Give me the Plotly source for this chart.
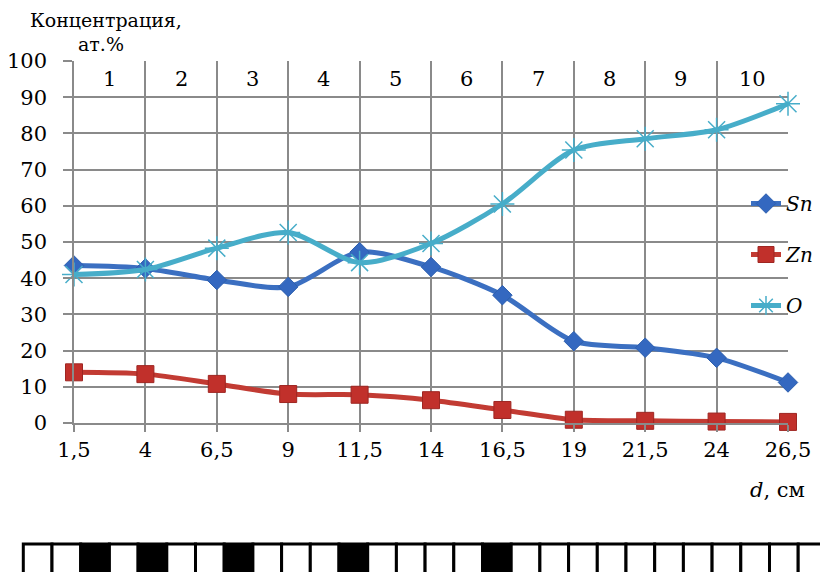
import plotly.graph_objects as go

# Distance along the sample, cm
d = [1.5, 4, 6.5, 9, 11.5, 14, 16.5, 19, 21.5, 24, 26.5]
d_labels = ["1,5", "4", "6,5", "9", "11,5", "14", "16,5", "19", "21,5", "24", "26,5"]

# Concentration, at.%
sn = [43.5, 42.7, 39.5, 37.6, 47.2, 43.1, 35.3, 22.6, 20.8, 18.0, 11.2]
zn = [14.0, 13.5, 10.8, 8.0, 7.8, 6.3, 3.6, 0.9, 0.6, 0.4, 0.3]
o = [41.0, 42.4, 48.3, 52.6, 44.3, 49.6, 60.5, 75.4, 78.5, 81.0, 88.2]

# Zone numbers shown in the top band, between neighbouring points
zones = ["1", "2", "3", "4", "5", "6", "7", "8", "9", "10"]

# Sample strip under the chart: 1 = dark cell, 0 = light cell
strip = [0, 0, 1, 0, 1, 0, 0, 1, 0, 0, 0, 1, 0, 0, 0, 0, 1,
         0, 0, 0, 0, 0, 0, 0, 0, 0, 0, 0]

W, H = 820, 572
ML, MR, MT, MB = 74, 32, 61, 149
PW, PH = W - ML - MR, H - MT - MB

SERIF = "DejaVu Serif"
GRID = "#8a8a8a"
TICK_SIZE = 21


def px_x(px):
    return (px - ML) / PW


def px_y(py):
    return (H - MB - py) / PH


fig = go.Figure()

fig.add_trace(go.Scatter(
    x=d, y=sn, name="Sn", mode="lines+markers", legendgroup="sn",
    line=dict(color="#3b6fc1", width=5, shape="spline", smoothing=0.8),
    marker=dict(symbol="diamond", size=15, color="#3468c0",
                line=dict(color="#2d5fae", width=1)),
    cliponaxis=False,
))
fig.add_trace(go.Scatter(
    x=d, y=zn, name="Zn", mode="lines+markers", legendgroup="zn",
    line=dict(color="#c23b33", width=5, shape="spline", smoothing=0.8),
    marker=dict(symbol="square", size=17, color="#c1302b",
                line=dict(color="#9e2622", width=1)),
    cliponaxis=False,
))
fig.add_trace(go.Scatter(
    x=d, y=o, name="O", mode="lines+markers", legendgroup="o",
    line=dict(color="#47adc9", width=5, shape="spline", smoothing=0.8),
    marker=dict(symbol="asterisk-open", size=20,
                line=dict(color="#6cc4dc", width=1.5)),
    cliponaxis=False,
))

annotations = []
# zone numbers centred between gridlines in the 90–100 band
for i, z in enumerate(zones):
    annotations.append(dict(
        x=(d[i] + d[i + 1]) / 2, y=95, xref="x", yref="y", text=z,
        xanchor="center", yanchor="middle", showarrow=False,
        font=dict(family=SERIF, size=TICK_SIZE, color="black"),
    ))

# axis captions
annotations.append(dict(
    x=px_x(106), y=px_y(20), xref="paper", yref="paper",
    text="Концентрация,", showarrow=False,
    xanchor="center", yanchor="middle",
    font=dict(family=SERIF, size=19, color="black"),
))
annotations.append(dict(
    x=px_x(101), y=px_y(44), xref="paper", yref="paper",
    text="ат.%", showarrow=False,
    xanchor="center", yanchor="middle",
    font=dict(family=SERIF, size=19, color="black"),
))
annotations.append(dict(
    x=px_x(777), y=px_y(490), xref="paper", yref="paper",
    text="<i>d</i>, см", showarrow=False,
    xanchor="center", yanchor="middle",
    font=dict(family=SERIF, size=TICK_SIZE, color="black"),
))

# sample strip of cells
shapes = []
cell_w = 28.7
x0 = 23.3
top, bottom = 544, 585
for i, dark in enumerate(strip):
    shapes.append(dict(
        type="rect", xref="paper", yref="paper",
        x0=px_x(x0 + i * cell_w), x1=px_x(x0 + (i + 1) * cell_w),
        y0=px_y(bottom), y1=px_y(top),
        fillcolor="black" if dark else "white",
        line=dict(color="black", width=3),
        layer="above",
    ))

fig.update_layout(
    width=W, height=H,
    margin=dict(l=ML, r=MR, t=MT, b=MB, pad=0, autoexpand=False),
    paper_bgcolor="white", plot_bgcolor="white",
    showlegend=True,
    legend=dict(
        x=px_x(746), y=px_y(184), xanchor="left", yanchor="top",
        bgcolor="rgba(0,0,0,0)", borderwidth=0,
        font=dict(family=SERIF, size=20, color="black", style="italic"),
        tracegroupgap=22,
    ),
    annotations=annotations,
    shapes=shapes,
)

fig.update_xaxes(
    range=[d[0], d[-1]], tickvals=d, ticktext=d_labels,
    showgrid=True, gridcolor=GRID, gridwidth=1.5,
    showline=True, linecolor=GRID, linewidth=1.5, mirror=False,
    ticks="outside", ticklen=7, tickcolor=GRID, tickwidth=1.5,
    tickfont=dict(family=SERIF, size=TICK_SIZE, color="black"),
    zeroline=False, automargin=False,
)
fig.update_yaxes(
    range=[0, 100], dtick=10, tick0=0,
    showgrid=True, gridcolor=GRID, gridwidth=1.5,
    showline=True, linecolor=GRID, linewidth=1.5,
    ticks="outside", ticklen=9, tickcolor=GRID, tickwidth=1.5,
    ticklabelstandoff=12,
    tickfont=dict(family=SERIF, size=TICK_SIZE, color="black"),
    zeroline=False, automargin=False,
)

fig.write_html("out.html")
